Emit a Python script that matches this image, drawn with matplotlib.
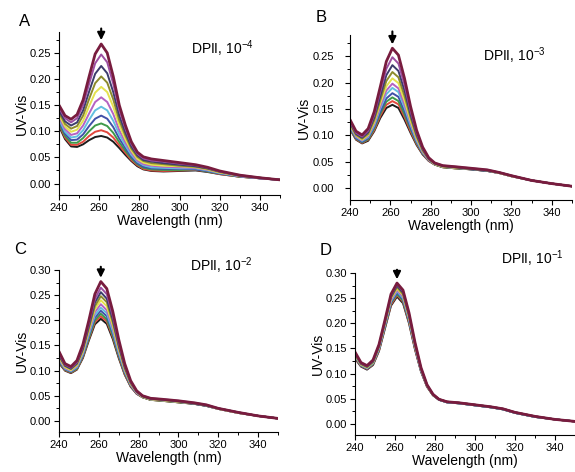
import numpy as np
import matplotlib
matplotlib.use("Agg")
import matplotlib.pyplot as plt
import matplotlib.ticker as ticker

plt.rcParams["font.family"] = ["Liberation Sans", "DejaVu Sans"]
plt.rcParams["mathtext.fontset"] = "custom"
plt.rcParams["mathtext.rm"] = "Liberation Sans"
plt.rcParams["mathtext.it"] = "Liberation Sans"

# wavelength grid (nm) shared by all spectra
wavelength = [240, 243, 246, 249, 252, 255, 258, 261, 264, 267, 270, 273,
              276, 279, 282, 286, 292, 300, 308, 314, 320, 330, 340, 350]

# panel A, DPII 1e-4 (bottom -> top)
spec_a = [
    [0.110, 0.085, 0.071, 0.070, 0.075, 0.083, 0.089, 0.091, 0.088, 0.080, 0.068, 0.055, 0.043, 0.033, 0.027, 0.024, 0.023, 0.024, 0.025, 0.022, 0.018, 0.013, 0.010, 0.007],
    [0.113, 0.088, 0.074, 0.074, 0.080, 0.091, 0.099, 0.102, 0.098, 0.088, 0.073, 0.059, 0.045, 0.035, 0.028, 0.025, 0.024, 0.025, 0.026, 0.023, 0.018, 0.013, 0.010, 0.007],
    [0.115, 0.091, 0.078, 0.078, 0.087, 0.100, 0.111, 0.115, 0.110, 0.097, 0.079, 0.063, 0.048, 0.037, 0.030, 0.027, 0.026, 0.026, 0.027, 0.023, 0.019, 0.013, 0.010, 0.007],
    [0.119, 0.095, 0.083, 0.084, 0.094, 0.110, 0.124, 0.130, 0.124, 0.108, 0.086, 0.068, 0.051, 0.039, 0.032, 0.029, 0.028, 0.028, 0.027, 0.024, 0.019, 0.014, 0.010, 0.007],
    [0.123, 0.099, 0.088, 0.090, 0.102, 0.122, 0.140, 0.147, 0.140, 0.120, 0.094, 0.073, 0.055, 0.042, 0.035, 0.031, 0.030, 0.029, 0.029, 0.025, 0.020, 0.014, 0.010, 0.007],
    [0.127, 0.104, 0.093, 0.096, 0.111, 0.134, 0.156, 0.165, 0.156, 0.133, 0.102, 0.079, 0.059, 0.044, 0.037, 0.034, 0.032, 0.031, 0.030, 0.026, 0.021, 0.014, 0.010, 0.007],
    [0.131, 0.109, 0.099, 0.103, 0.120, 0.148, 0.174, 0.185, 0.175, 0.147, 0.112, 0.085, 0.063, 0.047, 0.040, 0.036, 0.034, 0.033, 0.031, 0.027, 0.021, 0.015, 0.011, 0.007],
    [0.136, 0.114, 0.105, 0.110, 0.130, 0.162, 0.192, 0.205, 0.193, 0.161, 0.121, 0.092, 0.067, 0.051, 0.043, 0.039, 0.037, 0.034, 0.032, 0.028, 0.022, 0.015, 0.011, 0.007],
    [0.140, 0.119, 0.111, 0.117, 0.140, 0.176, 0.210, 0.225, 0.211, 0.175, 0.130, 0.098, 0.071, 0.054, 0.045, 0.042, 0.039, 0.036, 0.033, 0.029, 0.023, 0.015, 0.011, 0.007],
    [0.145, 0.125, 0.117, 0.125, 0.150, 0.191, 0.230, 0.247, 0.232, 0.191, 0.141, 0.106, 0.076, 0.057, 0.048, 0.044, 0.042, 0.038, 0.035, 0.030, 0.023, 0.016, 0.011, 0.007],
    [0.150, 0.130, 0.123, 0.132, 0.160, 0.205, 0.248, 0.267, 0.250, 0.205, 0.150, 0.112, 0.080, 0.060, 0.051, 0.047, 0.044, 0.040, 0.036, 0.031, 0.024, 0.016, 0.011, 0.007],
]

# panel B, DPII 1e-3
spec_b = [
    [0.112, 0.092, 0.085, 0.090, 0.108, 0.133, 0.152, 0.158, 0.152, 0.130, 0.105, 0.082, 0.064, 0.052, 0.045, 0.040, 0.038, 0.036, 0.033, 0.029, 0.023, 0.015, 0.009, 0.004],
    [0.113, 0.093, 0.086, 0.092, 0.110, 0.137, 0.158, 0.165, 0.159, 0.135, 0.108, 0.084, 0.065, 0.052, 0.045, 0.040, 0.038, 0.036, 0.033, 0.029, 0.023, 0.015, 0.009, 0.004],
    [0.114, 0.094, 0.087, 0.093, 0.113, 0.141, 0.164, 0.172, 0.165, 0.140, 0.112, 0.086, 0.066, 0.053, 0.045, 0.040, 0.038, 0.036, 0.033, 0.029, 0.023, 0.015, 0.009, 0.004],
    [0.116, 0.095, 0.088, 0.095, 0.116, 0.145, 0.170, 0.180, 0.173, 0.146, 0.115, 0.088, 0.067, 0.053, 0.046, 0.041, 0.039, 0.036, 0.033, 0.029, 0.023, 0.015, 0.009, 0.004],
    [0.117, 0.097, 0.090, 0.097, 0.119, 0.151, 0.178, 0.190, 0.182, 0.153, 0.120, 0.090, 0.068, 0.054, 0.046, 0.041, 0.039, 0.037, 0.034, 0.029, 0.023, 0.015, 0.009, 0.004],
    [0.119, 0.098, 0.091, 0.099, 0.122, 0.155, 0.185, 0.198, 0.189, 0.159, 0.124, 0.093, 0.069, 0.054, 0.046, 0.041, 0.039, 0.037, 0.034, 0.029, 0.023, 0.015, 0.009, 0.004],
    [0.120, 0.100, 0.092, 0.101, 0.125, 0.161, 0.193, 0.208, 0.199, 0.166, 0.128, 0.095, 0.071, 0.055, 0.046, 0.041, 0.039, 0.037, 0.034, 0.029, 0.023, 0.015, 0.009, 0.004],
    [0.122, 0.101, 0.094, 0.103, 0.129, 0.167, 0.203, 0.220, 0.210, 0.175, 0.134, 0.098, 0.072, 0.055, 0.047, 0.042, 0.040, 0.037, 0.034, 0.030, 0.024, 0.015, 0.009, 0.004],
    [0.125, 0.103, 0.096, 0.106, 0.134, 0.174, 0.214, 0.233, 0.222, 0.185, 0.140, 0.102, 0.074, 0.056, 0.047, 0.042, 0.040, 0.037, 0.034, 0.030, 0.024, 0.015, 0.009, 0.004],
    [0.127, 0.105, 0.098, 0.109, 0.139, 0.183, 0.226, 0.248, 0.236, 0.196, 0.147, 0.106, 0.076, 0.057, 0.048, 0.043, 0.041, 0.038, 0.035, 0.030, 0.024, 0.015, 0.009, 0.004],
    [0.130, 0.108, 0.101, 0.113, 0.145, 0.192, 0.240, 0.265, 0.252, 0.208, 0.155, 0.110, 0.078, 0.058, 0.048, 0.043, 0.041, 0.038, 0.035, 0.030, 0.024, 0.015, 0.009, 0.004],
]

# panel C, DPII 1e-2
spec_c = [
    [0.115, 0.100, 0.095, 0.102, 0.125, 0.160, 0.192, 0.203, 0.193, 0.163, 0.125, 0.092, 0.068, 0.054, 0.047, 0.042, 0.040, 0.037, 0.034, 0.030, 0.024, 0.016, 0.010, 0.005],
    [0.117, 0.101, 0.096, 0.103, 0.127, 0.163, 0.196, 0.208, 0.198, 0.167, 0.128, 0.093, 0.069, 0.054, 0.047, 0.042, 0.040, 0.037, 0.034, 0.030, 0.024, 0.016, 0.010, 0.005],
    [0.118, 0.102, 0.097, 0.104, 0.129, 0.165, 0.200, 0.213, 0.202, 0.170, 0.130, 0.095, 0.070, 0.055, 0.047, 0.042, 0.040, 0.037, 0.034, 0.030, 0.024, 0.016, 0.010, 0.005],
    [0.120, 0.103, 0.098, 0.106, 0.131, 0.169, 0.205, 0.219, 0.208, 0.175, 0.133, 0.097, 0.071, 0.055, 0.048, 0.043, 0.041, 0.038, 0.034, 0.030, 0.024, 0.016, 0.010, 0.005],
    [0.122, 0.104, 0.099, 0.107, 0.133, 0.172, 0.210, 0.225, 0.214, 0.179, 0.136, 0.099, 0.072, 0.056, 0.048, 0.043, 0.041, 0.038, 0.035, 0.031, 0.024, 0.016, 0.010, 0.005],
    [0.124, 0.105, 0.100, 0.109, 0.136, 0.176, 0.216, 0.232, 0.220, 0.185, 0.140, 0.101, 0.073, 0.056, 0.048, 0.043, 0.041, 0.038, 0.035, 0.031, 0.024, 0.016, 0.010, 0.005],
    [0.126, 0.107, 0.101, 0.111, 0.138, 0.180, 0.222, 0.240, 0.228, 0.190, 0.143, 0.103, 0.074, 0.057, 0.048, 0.043, 0.041, 0.038, 0.035, 0.031, 0.024, 0.016, 0.010, 0.005],
    [0.129, 0.109, 0.103, 0.113, 0.141, 0.184, 0.228, 0.248, 0.236, 0.196, 0.147, 0.105, 0.075, 0.058, 0.049, 0.044, 0.042, 0.039, 0.035, 0.031, 0.025, 0.017, 0.010, 0.005],
    [0.131, 0.110, 0.104, 0.115, 0.144, 0.189, 0.235, 0.256, 0.243, 0.202, 0.151, 0.108, 0.077, 0.058, 0.049, 0.044, 0.042, 0.039, 0.035, 0.031, 0.025, 0.017, 0.010, 0.005],
    [0.134, 0.112, 0.106, 0.117, 0.148, 0.194, 0.242, 0.265, 0.252, 0.209, 0.156, 0.111, 0.078, 0.059, 0.050, 0.045, 0.043, 0.040, 0.036, 0.032, 0.025, 0.017, 0.010, 0.005],
    [0.138, 0.114, 0.108, 0.120, 0.152, 0.200, 0.252, 0.277, 0.263, 0.218, 0.162, 0.114, 0.080, 0.060, 0.050, 0.045, 0.043, 0.040, 0.036, 0.032, 0.025, 0.017, 0.010, 0.005],
]

# panel D, DPII 1e-1
spec_d = [
    [0.130, 0.114, 0.108, 0.117, 0.145, 0.190, 0.235, 0.253, 0.240, 0.200, 0.148, 0.104, 0.074, 0.057, 0.048, 0.043, 0.041, 0.037, 0.033, 0.029, 0.022, 0.014, 0.009, 0.005],
    [0.131, 0.115, 0.109, 0.118, 0.146, 0.192, 0.237, 0.256, 0.243, 0.202, 0.149, 0.105, 0.074, 0.057, 0.048, 0.043, 0.041, 0.037, 0.033, 0.029, 0.022, 0.014, 0.009, 0.005],
    [0.133, 0.116, 0.110, 0.119, 0.148, 0.193, 0.240, 0.258, 0.245, 0.204, 0.151, 0.106, 0.075, 0.057, 0.048, 0.043, 0.041, 0.037, 0.033, 0.029, 0.022, 0.014, 0.009, 0.005],
    [0.134, 0.116, 0.110, 0.120, 0.149, 0.195, 0.242, 0.261, 0.248, 0.206, 0.152, 0.106, 0.075, 0.058, 0.048, 0.043, 0.041, 0.037, 0.033, 0.029, 0.022, 0.014, 0.009, 0.005],
    [0.135, 0.117, 0.111, 0.121, 0.150, 0.197, 0.244, 0.264, 0.250, 0.208, 0.154, 0.107, 0.076, 0.058, 0.048, 0.043, 0.041, 0.037, 0.033, 0.029, 0.022, 0.014, 0.009, 0.005],
    [0.136, 0.118, 0.112, 0.122, 0.152, 0.199, 0.246, 0.266, 0.253, 0.210, 0.155, 0.108, 0.076, 0.058, 0.049, 0.044, 0.042, 0.038, 0.034, 0.030, 0.023, 0.015, 0.009, 0.005],
    [0.137, 0.118, 0.112, 0.122, 0.153, 0.200, 0.249, 0.269, 0.256, 0.212, 0.156, 0.109, 0.076, 0.058, 0.049, 0.044, 0.042, 0.038, 0.034, 0.030, 0.023, 0.015, 0.009, 0.005],
    [0.138, 0.119, 0.113, 0.123, 0.154, 0.202, 0.251, 0.272, 0.258, 0.214, 0.158, 0.110, 0.077, 0.058, 0.049, 0.044, 0.042, 0.038, 0.034, 0.030, 0.023, 0.015, 0.009, 0.005],
    [0.140, 0.120, 0.114, 0.124, 0.155, 0.204, 0.253, 0.275, 0.261, 0.217, 0.159, 0.110, 0.077, 0.058, 0.049, 0.044, 0.042, 0.038, 0.034, 0.030, 0.023, 0.015, 0.009, 0.005],
    [0.141, 0.121, 0.115, 0.126, 0.157, 0.205, 0.256, 0.278, 0.264, 0.219, 0.161, 0.111, 0.078, 0.059, 0.049, 0.044, 0.042, 0.038, 0.034, 0.030, 0.023, 0.015, 0.009, 0.005],
    [0.143, 0.122, 0.116, 0.127, 0.158, 0.207, 0.258, 0.280, 0.266, 0.221, 0.162, 0.112, 0.078, 0.059, 0.049, 0.044, 0.042, 0.038, 0.034, 0.030, 0.023, 0.015, 0.009, 0.005],
]

panel_letters = ["A", "B", "C", "D"]
panel_notes = ["DPII, 10$^{-4}$", "DPII, 10$^{-3}$", "DPII, 10$^{-2}$", "DPII, 10$^{-1}$"]
y_tops = [0.29, 0.29, 0.30, 0.30]

# Origin-like palette, bottom curve -> top curve
colors = ["#1c1c1c", "#e2483e", "#3f9a4a", "#4150a8", "#62bfe0", "#b462c2",
          "#e4e24e", "#8c8a2c", "#3c3c6c", "#9c4ea2", "#781c3e"]

W, H = 575, 472
fig = plt.figure(figsize=(W / 100, H / 100), dpi=100)

# axes boxes in pixels: left, top, right, bottom
boxes = [(59, 32, 280, 195), (350, 35, 572, 200),
         (59, 270, 278, 432), (355, 273, 575, 435)]
letter_pos = [(19, 21), (316, 18), (14, 249), (320, 250)]
note_pos = [(191, 49), (483, 56), (190, 266), (501, 259)]
ytick_pad = [2, 8, 2, 2]

all_specs = [spec_a, spec_b, spec_c, spec_d]

for i, spec in enumerate(all_specs):
    l, t, r, b = boxes[i]
    ax = fig.add_axes([l / W, 1 - b / H, (r - l) / W, (b - t) / H])
    spec = np.array(spec)
    for k, row in enumerate(spec):
        lw = 2.0 if k == len(spec) - 1 else 1.4
        ax.plot(wavelength, row, color=colors[k], lw=lw,
                solid_joinstyle="round", solid_capstyle="round")

    ax.set_xlim(240, 350)
    ax.set_ylim(-0.022, y_tops[i])
    ax.xaxis.set_major_locator(ticker.MultipleLocator(20))
    ax.xaxis.set_minor_locator(ticker.MultipleLocator(10))
    ax.yaxis.set_major_locator(ticker.MultipleLocator(0.05))
    ax.yaxis.set_minor_locator(ticker.MultipleLocator(0.025))
    ax.yaxis.set_major_formatter(ticker.FormatStrFormatter("%.2f"))
    ax.tick_params(axis="x", which="major", direction="out", length=3.5,
                   width=0.8, labelsize=8, pad=2)
    ax.tick_params(axis="y", which="major", direction="out", length=3.5,
                   width=0.8, labelsize=8, pad=ytick_pad[i])
    ax.tick_params(which="minor", direction="out", length=2, width=0.7)
    for s in ["top", "right"]:
        ax.spines[s].set_visible(False)
    for s in ["left", "bottom"]:
        ax.spines[s].set_linewidth(0.8)
    ax.set_xlabel("Wavelength (nm)", fontsize=10, labelpad=1)
    ax.set_ylabel("UV-Vis", fontsize=10, labelpad=1)

    # arrow marking the decreasing peak
    top_row = spec[-1]
    k_peak = int(np.argmax(top_row))
    ax.annotate("", xy=(wavelength[k_peak], top_row[k_peak] + 0.002),
                xytext=(wavelength[k_peak], y_tops[i] + 0.012),
                arrowprops=dict(arrowstyle="-|>", color="black", lw=1.5,
                                mutation_scale=11),
                annotation_clip=False)

    fig.text(letter_pos[i][0] / W, 1 - letter_pos[i][1] / H, panel_letters[i],
             fontsize=12, va="center", ha="left")
    fig.text(note_pos[i][0] / W, 1 - note_pos[i][1] / H, panel_notes[i],
             fontsize=10, va="center", ha="left")

fig.savefig("out.png", dpi=100)
